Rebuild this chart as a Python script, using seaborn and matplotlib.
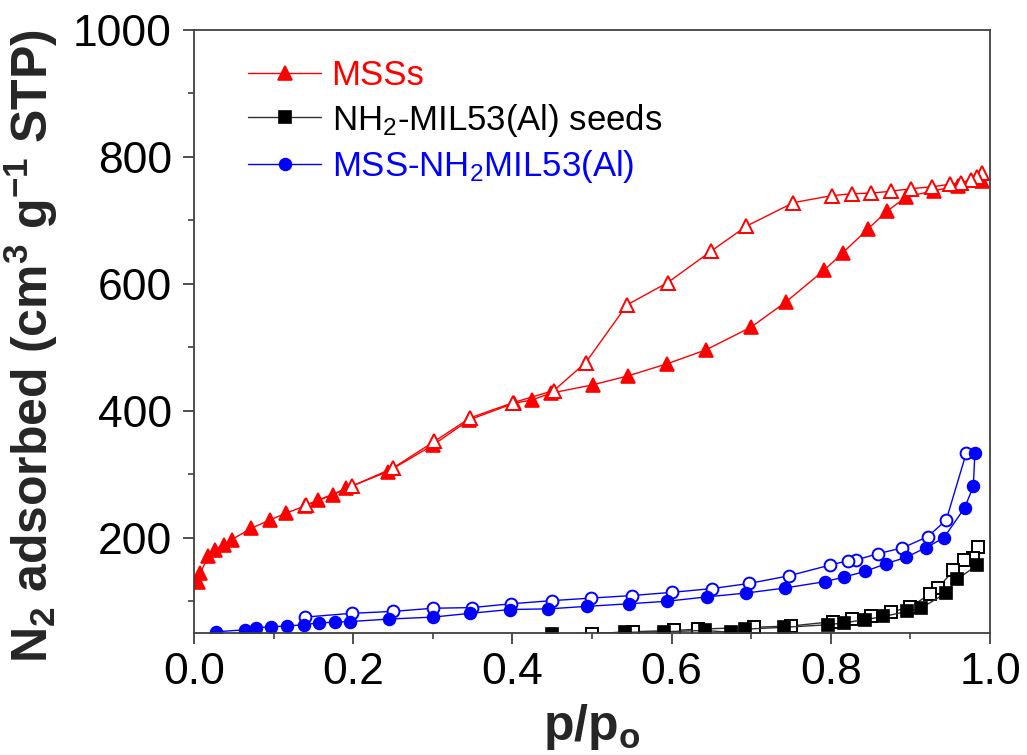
import matplotlib
matplotlib.use("Agg")
import matplotlib.pyplot as plt
from matplotlib.ticker import MultipleLocator, FormatStrFormatter
import seaborn as sns

# ---------------- data ----------------
mss_ads_p = [0.005, 0.0075, 0.018, 0.026, 0.037, 0.047, 0.072, 0.095, 0.116, 0.139, 0.156,
             0.175, 0.191, 0.243, 0.300, 0.346, 0.402, 0.424, 0.449, 0.501, 0.545, 0.594,
             0.643, 0.700, 0.744, 0.792, 0.815, 0.847, 0.871, 0.895, 0.930, 0.960, 0.990]
mss_ads_v = [131, 144, 171, 181, 189, 197, 215, 228, 239, 250, 259,
             268, 278, 304, 346, 386, 412, 417, 428, 441, 455, 474,
             496, 532, 572, 622, 649, 687, 715, 737, 747, 754, 762]
mss_des_p = [0.990, 0.984, 0.976, 0.963, 0.950, 0.927, 0.901, 0.876, 0.851, 0.826, 0.801,
             0.753, 0.694, 0.650, 0.595, 0.544, 0.492, 0.452, 0.401, 0.347, 0.302, 0.250,
             0.198, 0.140]
mss_des_v = [775, 768, 764, 759, 757, 753, 750, 746, 743, 742, 739,
             728, 691, 652, 602, 567, 476, 432, 413, 389, 352, 310,
             281, 251]

seed_ads_p = [0.450, 0.542, 0.590, 0.642, 0.674, 0.692, 0.741, 0.797, 0.816, 0.843, 0.866,
              0.896, 0.913, 0.945, 0.959, 0.984]
seed_ads_v = [48, 51, 52, 54, 51, 56, 59, 63, 66, 71, 76, 84, 89, 113, 135, 157]
seed_des_p = [0.985, 0.979, 0.967, 0.954, 0.935, 0.925, 0.900, 0.875, 0.851, 0.827, 0.803,
              0.750, 0.703, 0.633, 0.603, 0.551, 0.500]
seed_des_v = [186, 168, 165, 149, 121, 112, 91, 83, 76, 72, 68, 61, 59, 56, 54, 52, 49]

comp_ads_p = [0.028, 0.064, 0.078, 0.097, 0.117, 0.138, 0.157, 0.177, 0.196, 0.245, 0.300,
              0.347, 0.397, 0.445, 0.494, 0.546, 0.594, 0.645, 0.694, 0.743, 0.793, 0.816,
              0.843, 0.869, 0.894, 0.919, 0.942, 0.968, 0.979, 0.981]
comp_ads_v = [52, 55, 58, 60, 61, 63, 66, 67, 68, 72, 75, 81, 87, 88, 92, 96, 100, 107, 113,
              121, 131, 138, 147, 159, 169, 184, 200, 247, 281, 334]
comp_des_p = [0.970, 0.945, 0.922, 0.890, 0.859, 0.832, 0.822, 0.799, 0.747, 0.697, 0.651,
              0.600, 0.550, 0.499, 0.450, 0.398, 0.349, 0.300, 0.250, 0.198, 0.139]
comp_des_v = [333, 228, 202, 184, 175, 165, 164, 157, 140, 128, 120, 114, 109, 105, 101, 96,
              90, 89, 84, 81, 75]

labels = ["MSSs", "NH$_2$-MIL53(Al) seeds", "MSS-NH$_2$MIL53(Al)"]
colors = ["#FF0000", "#000000", "#0000FF"]
line_colors = ["#FF0000", "#303030", "#0000FF"]
x_ticks = [0.0, 0.2, 0.4, 0.6, 0.8, 1.0]
y_ticks = [200, 400, 600, 800, 1000]

# ---------------- style ----------------
sns.set_theme(style="ticks")
plt.rcParams["font.family"] = ["Liberation Sans", "DejaVu Sans"]
plt.rcParams["mathtext.fontset"] = "custom"
plt.rcParams["mathtext.rm"] = "Liberation Sans"
plt.rcParams["mathtext.it"] = "Liberation Sans:italic"
plt.rcParams["mathtext.bf"] = "Liberation Sans:bold"

fig = plt.figure(figsize=(10.27, 7.55), dpi=100)
ax = fig.add_axes([0.189, 0.1616, 0.775, 0.7987])

series = [
    (seed_des_p, seed_des_v, seed_ads_p, seed_ads_v, "s", 8, 1),
    (comp_des_p, comp_des_v, comp_ads_p, comp_ads_v, "o", 8.5, 2),
    (mss_ads_p, mss_ads_v, mss_des_p, mss_des_v, "^", 10.5, 0),
]

handles = {}
for p1, v1, p2, v2, mk, ms, idx in series:
    col = colors[idx]
    lcol = line_colors[idx]
    if idx == 0:
        sns.lineplot(x=p1, y=v1, sort=False, estimator=None, ax=ax, color=lcol, lw=1.0,
                     marker=mk, ms=ms, mfc=col, mec=col, mew=1.2)
        handles[idx] = ax.lines[-1]
        sns.lineplot(x=p2, y=v2, sort=False, estimator=None, ax=ax, color=lcol, lw=1.0,
                     marker=mk, ms=ms, mfc="white", mec=col, mew=1.4)
    else:
        sns.lineplot(x=p1, y=v1, sort=False, estimator=None, ax=ax, color=lcol, lw=1.0,
                     marker=mk, ms=ms, mfc="white", mec=col, mew=1.4)
        sns.lineplot(x=p2, y=v2, sort=False, estimator=None, ax=ax, color=lcol, lw=1.0,
                     marker=mk, ms=ms, mfc=col, mec=col, mew=1.2)
        handles[idx] = ax.lines[-1]

ax.set_xlim(0, 1.0)
ax.set_ylim(50, 1000)
ax.set_xticks(x_ticks)
ax.set_yticks(y_ticks)
ax.xaxis.set_minor_locator(MultipleLocator(0.1))
ax.yaxis.set_minor_locator(MultipleLocator(100))
ax.xaxis.set_major_formatter(FormatStrFormatter("%.1f"))

for s in ax.spines.values():
    s.set_visible(True)
    s.set_linewidth(1.3)
    s.set_color("#404040")
ax.tick_params(which="major", direction="out", length=8, width=1.3, color="#404040",
               labelsize=32, labelcolor="black", top=False, right=False)
ax.tick_params(axis="y", which="major", pad=8)
ax.tick_params(axis="x", which="major", pad=6)
ax.tick_params(which="minor", direction="out", length=4.5, width=1.2, color="#404040",
               top=False, right=False)

ax.set_xlabel(r"p/p$_\mathbf{o}$", fontsize=36, fontweight="bold")
ax.set_ylabel(r"N$_\mathbf{2}$ adsorbed (cm$^\mathbf{3}$ g$^\mathbf{-1}$ STP)", fontsize=36,
              fontweight="bold")
ax.xaxis.set_label_coords(0.5, -0.115)
ax.yaxis.set_label_coords(-0.168, 0.476)

leg = ax.legend([handles[0], handles[1], handles[2]], labels, loc="upper left",
                bbox_to_anchor=(0.068, 0.952), frameon=False, fontsize=25,
                handlelength=2.1, handletextpad=0.3, labelspacing=0.28,
                borderpad=0, borderaxespad=0)
for t, c in zip(leg.get_texts(), colors):
    t.set_color(c)

fig.savefig("out.png", dpi=100)
